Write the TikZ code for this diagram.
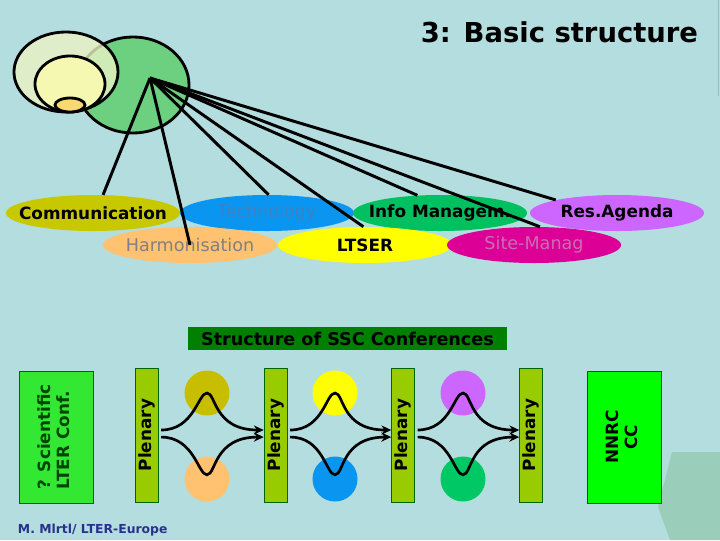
\documentclass[tikz,border=0pt]{standalone}
\usepackage{fontspec}
\setmainfont{DejaVu Sans}
\usetikzlibrary{arrows.meta,shapes.geometric,positioning}

\definecolor{slidebg}{RGB}{180,221,223}
\definecolor{cornergreen}{RGB}{155,206,186}
\definecolor{edgegray}{RGB}{150,190,196}
\definecolor{netgreen}{RGB}{108,208,128}
\definecolor{paleouter}{RGB}{234,242,196}
\definecolor{paleinner}{RGB}{244,248,176}
\definecolor{coreyellow}{RGB}{248,216,112}
\definecolor{commyellow}{RGB}{200,200,0}
\definecolor{techblue}{RGB}{10,150,240}
\definecolor{techtext}{RGB}{60,130,195}
\definecolor{infogreen}{RGB}{0,192,96}
\definecolor{respurple}{RGB}{204,102,255}
\definecolor{harmorange}{RGB}{255,194,112}
\definecolor{harmtext}{RGB}{128,128,128}
\definecolor{ltseryellow}{RGB}{255,255,0}
\definecolor{sitemagenta}{RGB}{220,0,150}
\definecolor{sitetext}{RGB}{200,110,180}
\definecolor{ssgreen}{RGB}{0,128,0}
\definecolor{darkgreen}{RGB}{0,100,0}
\definecolor{conftext}{RGB}{0,70,0}
\definecolor{confgreen}{RGB}{51,232,51}
\definecolor{plenarygreen}{RGB}{153,204,0}
\definecolor{nnrcgreen}{RGB}{0,255,0}
\definecolor{dotolive}{RGB}{200,190,0}
\definecolor{dotgreen}{RGB}{0,200,100}
\definecolor{footerblue}{RGB}{40,50,140}

\begin{document}
\begin{tikzpicture}[x=0.025cm,y=-0.025cm]
\fill[slidebg] (0,0) rectangle (720,540);
\useasboundingbox (0,0) rectangle (720,540);
\fill[cornergreen] (672,452) -- (720,452) -- (720,540) -- (670,540) -- (658,507) -- cycle;
\draw[edgegray,thin] (718,0) -- (718,96);

\node[anchor=base east,font=\bfseries\fontsize{19.5}{23}\selectfont] (title) at (703,42) {3: Basic structure};

% nested circles
\begin{scope}[every node/.style={ellipse,draw,line width=2pt,inner sep=0pt}]
    \node[fill=netgreen,minimum width=2.8cm,minimum height=2.4cm] (net) at (133,85) {};
    \node[fill=paleouter,fill opacity=0.8,minimum width=2.6cm,minimum height=2cm] (outer) at (66,72) {};
    \node[fill=paleinner,minimum width=1.75cm,minimum height=1.4cm] (inner) at (70,84) {};
    \node[fill=coreyellow,minimum width=0.75cm,minimum height=0.35cm] (core) at (70,105) {};
\end{scope}
\coordinate (hub) at (150,78);

% topics
\begin{scope}[every node/.style={ellipse,inner sep=0pt,minimum width=4.35cm,minimum height=0.9cm,
              font=\bfseries\fontsize{12}{14}\selectfont}]
    \node[fill=commyellow] (comm) at (93,213) {\makebox[0pt]{Communication}};
    \node[fill=techblue,text=techtext,font=\fontsize{12.5}{15}\selectfont] (tech) at (267,213) {\makebox[0pt]{Technology}};
    \node[fill=infogreen] (info) at (440,213) {\makebox[0pt]{Info Managem.}};
    \node[fill=respurple] (res) at (617,213) {\makebox[0pt]{Res.Agenda}};
    \node[fill=harmorange,text=harmtext,font=\fontsize{12.5}{15}\selectfont] (harm) at (190,245) {\makebox[0pt]{Harmonisation}};
    \node[fill=ltseryellow] (ltser) at (365,245) {\makebox[0pt]{LTSER}};
    \node[fill=sitemagenta,text=sitetext,font=\fontsize{12.5}{15}\selectfont] (site) at (534,245) {\makebox[0pt]{Site-Manag}};
\end{scope}
\begin{scope}[every edge/.style={draw,line width=2.1pt}]
    \path (hub) edge (comm.61);
    \path (hub) edge (harm.center);
    \path (hub) edge (tech.85);
    \path (hub) edge (ltser.95);
    \path (hub) edge (info.142);
    \path (hub) edge (site.72);
    \path (hub) edge (res.168);
\end{scope}

% conference structure
\node[fill=ssgreen,minimum width=7.975cm,minimum height=0.575cm,inner sep=0pt,
      font=\bfseries\fontsize{12.5}{15}\selectfont] (ssc) at (347.5,338.5) {Structure of SSC Conferences};
\begin{scope}[every node/.style={rectangle,draw=darkgreen,inner sep=0pt,font=\bfseries\fontsize{12}{14}\selectfont}]
    \node[fill=confgreen,text=conftext,minimum width=1.85cm,minimum height=3.3cm] (conf) at (56,437)
        {\rotatebox{90}{\begin{tabular}{@{}l@{}}? Scientific\\LTER Conf.\end{tabular}}};
    \node[fill=plenarygreen,minimum width=0.575cm,minimum height=3.35cm] (p1) at (146.5,435) {\rotatebox{90}{Plenary}};
    \node[fill=plenarygreen,minimum width=0.575cm,minimum height=3.35cm] (p2) at (275.5,435) {\rotatebox{90}{Plenary}};
    \node[fill=plenarygreen,minimum width=0.575cm,minimum height=3.35cm] (p3) at (403,435) {\rotatebox{90}{Plenary}};
    \node[fill=plenarygreen,minimum width=0.575cm,minimum height=3.35cm] (p4) at (531,435) {\rotatebox{90}{Plenary}};
    \node[fill=nnrcgreen,minimum width=1.85cm,minimum height=3.3cm] (nnrc) at (624,437)
        {\rotatebox{90}{\begin{tabular}{@{}c@{}}NNRC\\CC\end{tabular}}};
\end{scope}
\begin{scope}[every node/.style={circle,inner sep=0pt,minimum size=1.125cm}]
    \node[fill=dotolive] (t1) at (207,393) {};
    \node[fill=harmorange] (b1) at (207,479) {};
    \node[fill=ltseryellow] (t2) at (335,393) {};
    \node[fill=techblue] (b2) at (335,479) {};
    \node[fill=respurple] (t3) at (463,393) {};
    \node[fill=dotgreen] (b3) at (463,479) {};
\end{scope}
\begin{scope}[every path/.style={line width=1.9pt,-{Stealth[length=7pt,width=6.5pt]},shorten <=2pt}]
    \draw (p1.23) .. controls +(36,0) and +(-9,0) .. (t1.center) .. controls +(9,0) and +(-50,0) .. (p2.157);
    \draw (p1.-10) .. controls +(36,0) and +(-9,0) .. ([yshift=3pt]b1.center) .. controls +(9,0) and +(-50,0) .. (p2.190);
    \draw (p2.23) .. controls +(36,0) and +(-9,0) .. (t2.center) .. controls +(9,0) and +(-50,0) .. (p3.157);
    \draw (p2.-10) .. controls +(36,0) and +(-9,0) .. ([yshift=3pt]b2.center) .. controls +(9,0) and +(-50,0) .. (p3.190);
    \draw (p3.23) .. controls +(36,0) and +(-9,0) .. (t3.center) .. controls +(9,0) and +(-50,0) .. (p4.157);
    \draw (p3.-10) .. controls +(36,0) and +(-9,0) .. ([yshift=3pt]b3.center) .. controls +(9,0) and +(-50,0) .. (p4.190);
\end{scope}

\node[anchor=base west,text=footerblue,font=\bfseries\fontsize{8.8}{11}\selectfont] (credit) at (13,533) {M. Mlrtl/ LTER-Europe};
\end{tikzpicture}
\end{document}
